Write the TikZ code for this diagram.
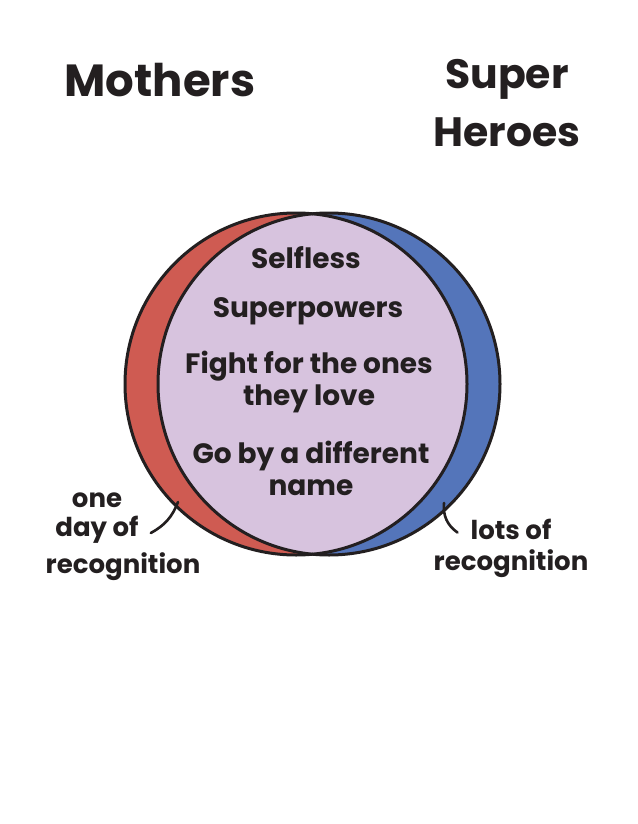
\documentclass[tikz,border=0pt]{standalone}
\usepackage{fontspec}
\setmainfont{Poppins}
\definecolor{momred}{HTML}{CF5B52}
\definecolor{heroblue}{HTML}{5475BA}
\definecolor{bothlilac}{HTML}{D7C3DE}
\definecolor{ink}{HTML}{231F20}

\begin{document}
\begin{tikzpicture}[x=1pt,y=-1pt,
    txt/.style={text=ink,align=center,inner sep=0pt},
    title/.style={txt,font=\fontsize{45}{58}\selectfont\bfseries},
    inside/.style={txt,font=\fontsize{28}{32}\selectfont\bfseries},
    side/.style={txt,font=\fontsize{26}{31}\selectfont\bfseries},
    tick/.style={draw=ink,line width=2.6pt,line cap=round}]
  \useasboundingbox (0,0) rectangle (637,824);
  % the two sets
  \fill[momred] (296,384) circle (171pt);
  \fill[heroblue] (329,384) circle (171pt);
  \begin{scope}
    \clip (296,384) circle (171pt);
    \fill[bothlilac] (329,384) circle (171pt);
  \end{scope}
  \draw[ink,line width=3pt] (296,384) circle (171pt);
  \draw[ink,line width=3pt] (329,384) circle (171pt);
  % headings
  \node[title] (mom) at (160,80) {Mothers};
  \node[title,font=\fontsize{41}{58}\selectfont\bfseries] (hero) at (507,103) {Super\\Heroes};
  % shared traits
  \node[inside] (self) at (306,258) {Selfless};
  \node[inside] (power) at (308,311) {Superpowers};
  \node[inside] (fight) at (309,382) {Fight for the ones\\they love};
  \node[inside] (alias) at (311,468) {Go by a different\\name};
  % notes outside
  \node[side] (one) at (97,500) {one};
  \node[side] (dayof) at (97,530) {day of};
  \node[side] (recog) at (123,567) {recognition};
  \node[side] (lots) at (511,548) {lots of\\recognition};
  \coordinate (redpt) at (178,502);
  \coordinate (bluept) at (444,503);
  \draw[tick] ([xshift=12pt,yshift=-3pt]dayof.east) to[bend right=20] (redpt);
  \draw[tick] (bluept) to[bend right=30] ([xshift=24pt,yshift=-14pt]lots.north west);
\end{tikzpicture}
\end{document}
